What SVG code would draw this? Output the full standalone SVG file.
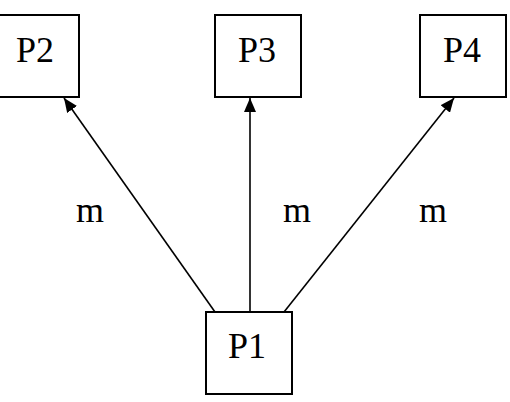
<svg xmlns="http://www.w3.org/2000/svg" width="510" height="402" viewBox="0 0 510 402">
<style>
.box{fill:#fff;stroke:#000;stroke-width:2}
.lbl{font-family:"Liberation Serif","Times New Roman",serif;font-size:36px;fill:#000;text-anchor:middle}
.edge{stroke:#000;stroke-width:1.6;fill:none;marker-end:url(#arr)}
</style>
<defs>
<marker id="arr" markerUnits="userSpaceOnUse" markerWidth="14" markerHeight="12" viewBox="0 0 14 12" refX="14" refY="6" orient="auto">
<path d="M0,0 L14,6 L0,12 Z" fill="#000"/>
</marker>
</defs>
<rect width="510" height="402" fill="#fff"/>
<g id="edges">
<line class="edge" x1="215" y1="312" x2="64" y2="98"/>
<line class="edge" x1="250" y1="312" x2="250" y2="98"/>
<line class="edge" x1="284" y1="312" x2="454" y2="98"/>
<text class="lbl" x="90" y="222">m</text>
<text class="lbl" x="297" y="222">m</text>
<text class="lbl" x="433" y="222">m</text>
</g>
<g id="P2">
<rect class="box" x="-7" y="15" width="86" height="82"/>
<text class="lbl" x="35" y="62">P2</text>
</g>
<g id="P3">
<rect class="box" x="215" y="15" width="86" height="82"/>
<text class="lbl" x="257" y="62">P3</text>
</g>
<g id="P4">
<rect class="box" x="420" y="15" width="86" height="82"/>
<text class="lbl" x="462" y="62">P4</text>
</g>
<g id="P1">
<rect class="box" x="206" y="312" width="86" height="82"/>
<text class="lbl" x="247" y="358">P1</text>
</g>
</svg>
